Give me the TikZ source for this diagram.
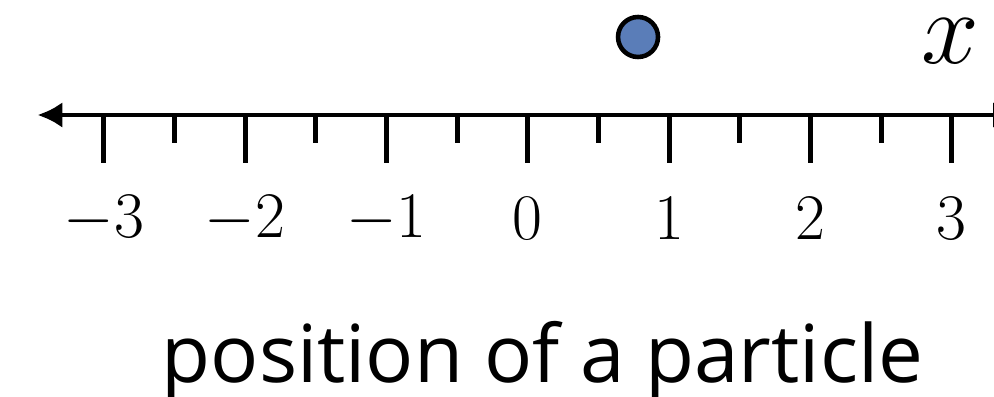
\RequirePackage{fix-cm}
\documentclass[tikz,border=0pt]{standalone}
\usepackage{fontspec}
\setmainfont{Open Sans}
\usepackage{tikz}
\usetikzlibrary{arrows.meta}
\definecolor{dotc}{RGB}{90,125,184}

\begin{document}
\begin{tikzpicture}[x=2.826cm,y=1cm,>={Latex[length=0.5cm,width=0.52cm]}]
% frame (px 994x396 ; axis at px y=115, zero at px x=527.8)
\useasboundingbox (-3.735,2.3) rectangle (3.299,-5.62);
\clip (-3.735,2.3) rectangle (3.299,-5.62);
% axis
\coordinate (lend) at (-3.47,0);
\coordinate (rend) at (3.47,0);
\draw[<->,line width=2.8pt] (lend)--(rend);
% ticks and labels
\foreach \k in {-3,...,3}{
  \draw[line width=2.8pt] (\k,0)--(\k,-0.96);
  \node[inner sep=0pt] (lab\k) at (\k,-2.08) {\fontsize{37}{40}\selectfont$\k$};
}
\foreach \k in {-2.5,-1.5,-0.5,0.5,1.5,2.5}
  \draw[line width=2.8pt] (\k,0)--(\k,-0.56);
% particle
\node[circle,draw,line width=2.6pt,fill=dotc,minimum size=0.8cm,inner sep=0pt] (part) at (0.78,1.56) {};
\node[inner sep=0pt] (xlab) at (2.99,1.48) {\fontsize{59}{62}\selectfont$x$};
% caption
\node[anchor=base,inner sep=0pt] (cap) at (0.104,-5.34) {\fontsize{45.5}{50}\selectfont position of a particle};
\end{tikzpicture}
\end{document}
